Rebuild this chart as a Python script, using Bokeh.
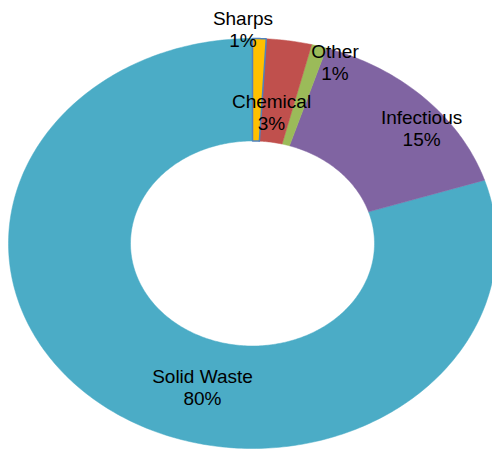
import numpy as np
from bokeh.plotting import figure
from bokeh.models import ColumnDataSource, Range1d
from bokeh.core.properties import value
from bokeh.embed import file_html
from bokeh.resources import INLINE

# ---- data ----
categories = ["Sharps", "Chemical", "Other", "Infectious", "Solid Waste"]
shares = [0.9, 3.0, 1.0, 15.1, 80.0]
colors = ["#FFC000", "#C0504D", "#9BBB59", "#8064A2", "#4BACC6"]

# ---- layout constants (label anchors in data space: x, name baseline y) ----
label_x = [-0.039, 0.078, 0.338, 0.693, -0.205]
label_y = [1.097, 0.692, 0.936, 0.614, -0.649]
HOLE = 0.5
W, H = 492, 451
x0, x1 = -252 / 244, 240 / 244
y0, y1 = -208 / 205, 243 / 205
line_gap_px = 22

p = figure(width=W, height=H, output_backend="svg", toolbar_location=None,
           x_range=Range1d(x0, x1), y_range=Range1d(y0, y1), min_border=0)
p.axis.visible = False
p.grid.visible = False
p.outline_line_color = None
p.background_fill_color = "white"
p.border_fill_color = "white"

total = sum(shares)
cum = np.concatenate([[0], np.cumsum(shares)]) / total * 2 * np.pi
xs, ys = [], []
for i in range(len(shares)):
    t = np.linspace(cum[i], cum[i + 1], max(4, int(400 * shares[i] / total) + 4))
    ox, oy = np.sin(t), np.cos(t)
    ix, iy = HOLE * np.sin(t[::-1]), HOLE * np.cos(t[::-1])
    xs.append(list(np.concatenate([ox, ix])))
    ys.append(list(np.concatenate([oy, iy])))

order = [4, 3, 2, 1, 0]
src = ColumnDataSource(dict(
    xs=[xs[i] for i in order], ys=[ys[i] for i in order],
    color=[colors[i] for i in order],
    lc=[colors[i] if i != 0 else "#4F81BD" for i in order],
    lw=[0.5 if i != 0 else 1.5 for i in order]))
p.patches("xs", "ys", fill_color="color", line_color="lc", line_width="lw", source=src)

ppu_y = H / (y1 - y0)
pct = [f"{round(v / total * 100)}%" for v in shares]
tsrc = ColumnDataSource(dict(x=label_x, y=label_y, name=categories,
                             y2=[v - line_gap_px / ppu_y for v in label_y], pct=pct))
common = dict(text_font=value("Liberation Sans"), text_font_size="19px",
              text_color="black", text_align="center", text_baseline="alphabetic")
p.text(x="x", y="y", text="name", source=tsrc, **common)
p.text(x="x", y="y2", text="pct", source=tsrc, **common)

open("out.html", "w").write(file_html(p, INLINE))
